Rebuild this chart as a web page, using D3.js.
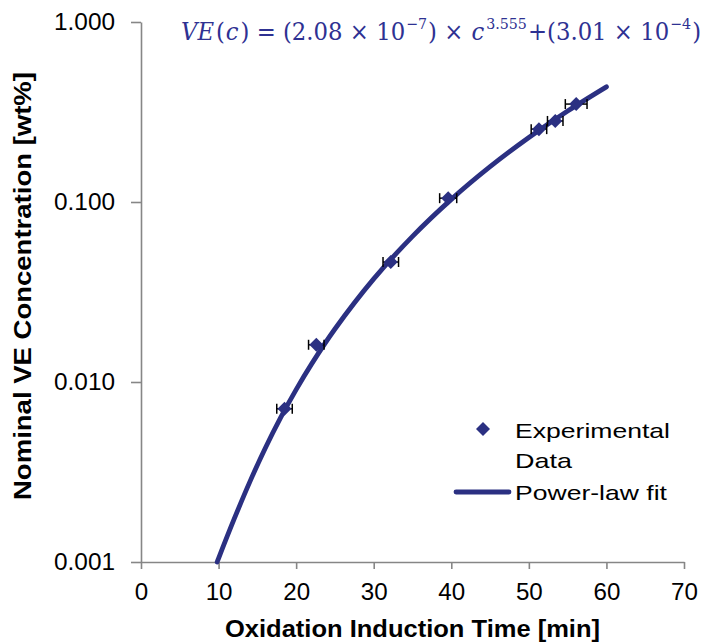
<!DOCTYPE html>
<html><head><meta charset="utf-8">
<script src="https://cdn.jsdelivr.net/npm/d3@7"></script>
<style>body{margin:0;background:#fff}svg{display:block}</style>
</head><body>
<svg id="c" width="705" height="644"></svg>
<script>
// ---- data ----
const oitMin = [18.5, 22.6, 32.2, 39.6, 51.3, 53.4, 56.1];
const veWt = [0.0071, 0.0161, 0.0464, 0.105, 0.254, 0.282, 0.350];
const oitErr = [1.0, 1.0, 1.0, 1.1, 1.0, 1.0, 1.4];
const fitC = [9.82, 10, 12, 14, 16, 18, 20, 22, 25, 30, 35, 40, 45, 50, 55, 60];
const fitVE = [0.00100, 0.001048, 0.001729, 0.002770, 0.004271, 0.006334, 0.009074, 0.012615, 0.019701, 0.03739, 0.06445, 0.10344, 0.15708, 0.22828, 0.32023, 0.43620];
const xTicks = [0, 10, 20, 30, 40, 50, 60, 70];
const yTicks = [0.001, 0.01, 0.1, 1];
const yTickLabels = ["0.001", "0.010", "0.100", "1.000"];
const legendLabels = [["Experimental", "Data"], ["Power-law fit"]];
const eqPieces = [
  {t: "VE", it: true}, {t: "("}, {t: "c", it: true}, {t: ") = (2.08 × 10"}, {t: "−7", sup: true},
  {t: ") × "}, {t: "c", it: true}, {t: "3.555", sup: true}, {t: "+(3.01 × 10"}, {t: "−4", sup: true}, {t: ")"}
];

const navy = "#2B3082";
const axisCol = "#868686";
const svg = d3.select("#c");
const L = 141, R = 684, T = 22, B = 562;
const x = d3.scaleLinear().domain([0, 70]).range([L, R]);
const y = d3.scaleLog().domain([0.001, 1]).range([B, T]);
const font = "Liberation Sans, Arial, sans-serif";
const stretch = (sel, k) => sel.each(function () {
  const w = this.getComputedTextLength();
  d3.select(this).attr("textLength", w * k).attr("lengthAdjust", "spacingAndGlyphs");
});

// axes
const xAxis = svg.append("g").attr("transform", `translate(0,${B})`)
  .call(d3.axisBottom(x).tickValues(xTicks).tickSize(7).tickSizeOuter(0).tickPadding(9));
const yAxis = svg.append("g").attr("transform", `translate(${L},0)`)
  .call(d3.axisLeft(y).tickValues(yTicks).tickFormat((d, i) => yTickLabels[i]).tickSize(10).tickSizeOuter(0).tickPadding(16));
[xAxis, yAxis].forEach(a => {
  a.select(".domain").attr("stroke", axisCol).attr("stroke-width", 1.6);
  a.selectAll(".tick line").attr("stroke", axisCol).attr("stroke-width", 1.6);
  a.selectAll(".tick text").attr("fill", "#000").style("font-family", font).style("font-size", "23px");
});
xAxis.selectAll(".tick text").attr("dy", "0.95em");
stretch(xAxis.selectAll(".tick text"), 1.05);
stretch(yAxis.selectAll(".tick text"), 1.06);

// fit curve
const line = d3.line().x((d, i) => x(fitC[i])).y(d => y(d)).curve(d3.curveCatmullRom);
svg.append("path").attr("d", line(fitVE)).attr("fill", "none")
  .attr("stroke", navy).attr("stroke-width", 4.8).attr("stroke-linecap", "round");

// error bars
const eb = svg.append("g").attr("stroke", "#000").attr("stroke-width", 1.5);
oitMin.forEach((c, i) => {
  const yy = y(veWt[i]);
  eb.append("line").attr("x1", x(c - oitErr[i])).attr("x2", x(c + oitErr[i])).attr("y1", yy).attr("y2", yy);
  [c - oitErr[i], c + oitErr[i]].forEach(v => eb.append("line").attr("x1", x(v)).attr("x2", x(v)).attr("y1", yy - 5).attr("y2", yy + 5));
});

// markers
const diamond = d3.symbol().type(d3.symbolDiamond2).size(125);
svg.append("g").selectAll("path").data(veWt).join("path")
  .attr("d", diamond).attr("fill", navy)
  .attr("transform", (d, i) => `translate(${x(oitMin[i])},${y(d)})`);

// equation (pieces laid out one after another)
const eqX = 181, eqY = 40, eqW = 521;
const eqG = svg.append("g").attr("fill", "#2E3192")
  .style("font-family", "DejaVu Serif, Liberation Serif, serif");
let cur = eqX;
eqPieces.forEach(p => {
  const t = eqG.append("text").attr("x", cur).attr("y", p.sup ? eqY - 11 : eqY)
    .style("font-size", p.sup ? "15px" : "24px").style("white-space", "pre")
    .style("font-style", p.it ? "italic" : "normal").text(p.t);
  cur += t.node().getComputedTextLength() + (p.it ? 2 : 1);
});
const k = eqW / (cur - eqX);
eqG.attr("transform", `translate(${eqX},0) scale(${k},1) translate(${-eqX},0)`);

// legend
const lg = svg.append("g").style("font-family", font).style("font-size", "21px");
lg.append("path").attr("d", diamond).attr("fill", navy).attr("transform", "translate(483,429)");
lg.append("text").attr("x", 515).attr("y", 438).attr("textLength", 155).attr("lengthAdjust", "spacingAndGlyphs").text(legendLabels[0][0]);
lg.append("text").attr("x", 515).attr("y", 468).attr("textLength", 57).attr("lengthAdjust", "spacingAndGlyphs").text(legendLabels[0][1]);
lg.append("line").attr("x1", 456).attr("x2", 509).attr("y1", 492).attr("y2", 492)
  .attr("stroke", navy).attr("stroke-width", 4.8).attr("stroke-linecap", "round");
lg.append("text").attr("x", 515).attr("y", 500).attr("textLength", 152).attr("lengthAdjust", "spacingAndGlyphs").text(legendLabels[1][0]);

// axis titles
svg.append("text").attr("x", 225).attr("y", 637)
  .attr("textLength", 375).attr("lengthAdjust", "spacingAndGlyphs")
  .style("font-family", font).style("font-size", "23px").style("font-weight", "bold")
  .text("Oxidation Induction Time [min]");
svg.append("text").attr("transform", "translate(31,500) rotate(-90)")
  .attr("textLength", 428).attr("lengthAdjust", "spacingAndGlyphs")
  .style("font-family", font).style("font-size", "23px").style("font-weight", "bold")
  .text("Nominal VE Concentration [wt%]");
</script>
</body></html>
